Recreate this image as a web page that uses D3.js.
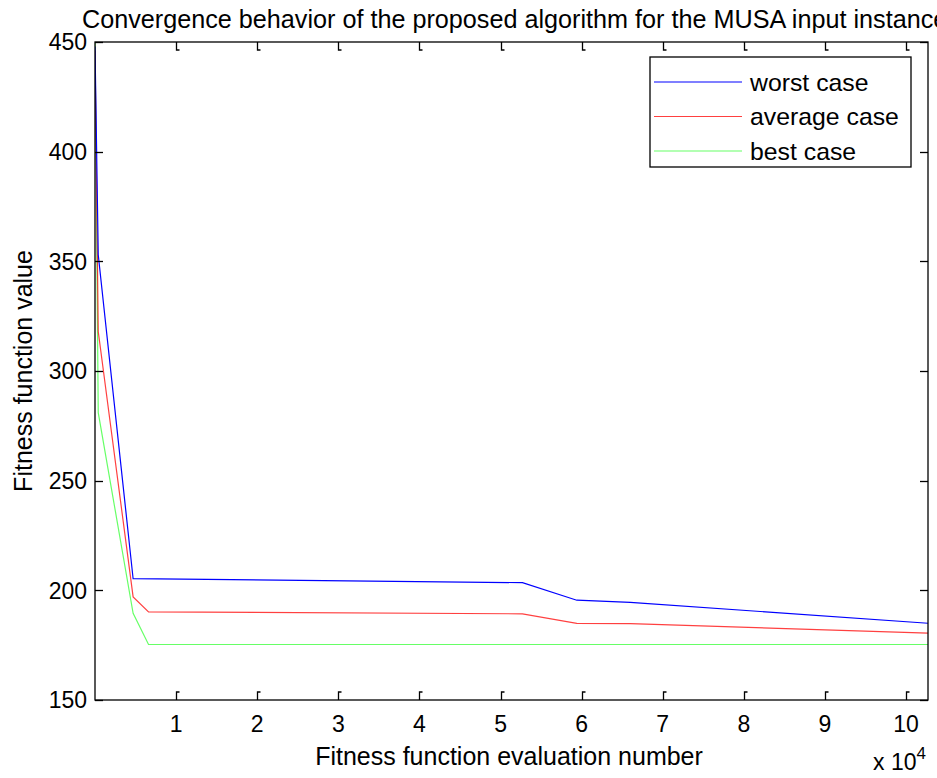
<!DOCTYPE html>
<html>
<head>
<meta charset="utf-8">
<script src="https://d3js.org/d3.v7.min.js"></script>
<style>
  body { margin: 0; background: #fff; }
  text { font-family: Arial, "Liberation Sans", sans-serif; fill: #000; }
</style>
</head>
<body>
<div id="chartHere"></div>
<script>
// values in units of 10^4 evaluations
var worstX = [0, 0.04, 0.47, 5.27, 5.94, 6.6, 10.27];
var worstY = [448, 353, 205.3, 203.5, 195.5, 194.5, 185];
var avgX   = [0, 0.04, 0.47, 0.66, 5.27, 5.94, 6.6, 10.27];
var avgY   = [446, 318, 197, 190.2, 189.3, 184.9, 184.8, 180.5];
var bestX  = [0, 0.04, 0.47, 0.66, 10.27];
var bestY  = [452, 281, 189.5, 175.3, 175.3];

var xTicks = [1, 2, 3, 4, 5, 6, 7, 8, 9, 10];
var yTicks = [150, 200, 250, 300, 350, 400, 450];
var seriesNames = ['worst case', 'average case', 'best case'];

var W = 937, H = 778;
var box = {left: 95, right: 928, top: 42, bottom: 700};

var svg = d3.select('#chartHere').append('svg')
  .attr('width', W).attr('height', H);

var x = d3.scaleLinear().domain([0, 10.27]).range([box.left, box.right]);
var y = d3.scaleLinear().domain([150, 450]).range([box.bottom, box.top]);

svg.append('clipPath').attr('id', 'clip')
  .append('rect')
  .attr('x', box.left).attr('y', box.top)
  .attr('width', box.right - box.left).attr('height', box.bottom - box.top);

// title
svg.append('text')
  .attr('x', 82).attr('y', 28)
  .attr('font-size', 25.2)
  .text('Convergence behavior of the proposed algorithm for the MUSA input instance');

// series
var series = [
  {name: seriesNames[0], xs: worstX, ys: worstY, color: '#0000ff', op: 1},
  {name: seriesNames[1], xs: avgX, ys: avgY, color: '#ff0000', op: 0.75},
  {name: seriesNames[2], xs: bestX, ys: bestY, color: '#00ff00', op: 0.6}
];

var line = d3.line()
  .x(function(d) { return x(d[0]); })
  .y(function(d) { return y(d[1]); });

var plot = svg.append('g').attr('clip-path', 'url(#clip)');
series.slice().reverse().forEach(function(s) {
  plot.append('path')
    .datum(d3.zip(s.xs, s.ys))
    .attr('d', line)
    .attr('fill', 'none')
    .attr('stroke', s.color)
    .attr('stroke-opacity', s.op)
    .attr('stroke-width', 1.2);
});

// axes box
svg.append('rect')
  .attr('x', box.left).attr('y', box.top)
  .attr('width', box.right - box.left).attr('height', box.bottom - box.top)
  .attr('fill', 'none').attr('stroke', '#000').attr('stroke-width', 1.3);

// x ticks (bottom and top, inward)
var tl = 8;
xTicks.forEach(function(t) {
  var px = Math.round(x(t)) + 0.5;
  svg.append('path')
    .attr('d', 'M' + px + ',' + box.bottom + 'V' + (box.bottom - tl) + 'h3')
    .attr('fill', 'none').attr('stroke', '#000').attr('stroke-width', 1.3);
  svg.append('path')
    .attr('d', 'M' + px + ',' + box.top + 'V' + (box.top + tl) + 'h3')
    .attr('fill', 'none').attr('stroke', '#000').attr('stroke-width', 1.3);
  svg.append('text')
    .attr('x', x(t)).attr('y', 732)
    .attr('text-anchor', 'middle')
    .attr('font-size', 23)
    .text(t);
});

// y ticks (left and right, inward)
yTicks.forEach(function(t) {
  var py = Math.round(y(t)) + 0.5;
  svg.append('line')
    .attr('x1', box.left).attr('x2', box.left + tl)
    .attr('y1', py).attr('y2', py)
    .attr('stroke', '#000').attr('stroke-width', 1.3);
  svg.append('line')
    .attr('x1', box.right).attr('x2', box.right - tl)
    .attr('y1', py).attr('y2', py)
    .attr('stroke', '#000').attr('stroke-width', 1.3);
  svg.append('text')
    .attr('x', 87).attr('y', y(t))
    .attr('dy', '0.36em')
    .attr('text-anchor', 'end')
    .attr('font-size', 23)
    .text(t);
});

// axis labels
svg.append('text')
  .attr('x', 509).attr('y', 765)
  .attr('text-anchor', 'middle')
  .attr('font-size', 25)
  .text('Fitness function evaluation number');

svg.append('text')
  .attr('transform', 'translate(32,' + ((box.top + box.bottom) / 2) + ') rotate(-90)')
  .attr('text-anchor', 'middle')
  .attr('font-size', 25)
  .text('Fitness function value');

var expo = svg.append('text')
  .attr('x', 873).attr('y', 770)
  .attr('font-size', 23);
expo.append('tspan').text('x 10');
expo.append('tspan').attr('dy', -11).attr('font-size', 17).text('4');

// legend
var leg = {x: 650, y: 57, w: 261, h: 110};
svg.append('rect')
  .attr('x', leg.x).attr('y', leg.y)
  .attr('width', leg.w).attr('height', leg.h)
  .attr('fill', '#fff').attr('stroke', '#000').attr('stroke-width', 1.3);

series.forEach(function(s, i) {
  var ry = 82 + i * 34.5;
  svg.append('line')
    .attr('x1', 654).attr('x2', 742)
    .attr('y1', ry).attr('y2', ry)
    .attr('stroke', s.color).attr('stroke-opacity', s.op)
    .attr('stroke-width', 1.2);
  svg.append('text')
    .attr('x', 750).attr('y', ry)
    .attr('dy', '0.36em')
    .attr('font-size', 24.8)
    .text(s.name);
});
</script>
</body>
</html>
